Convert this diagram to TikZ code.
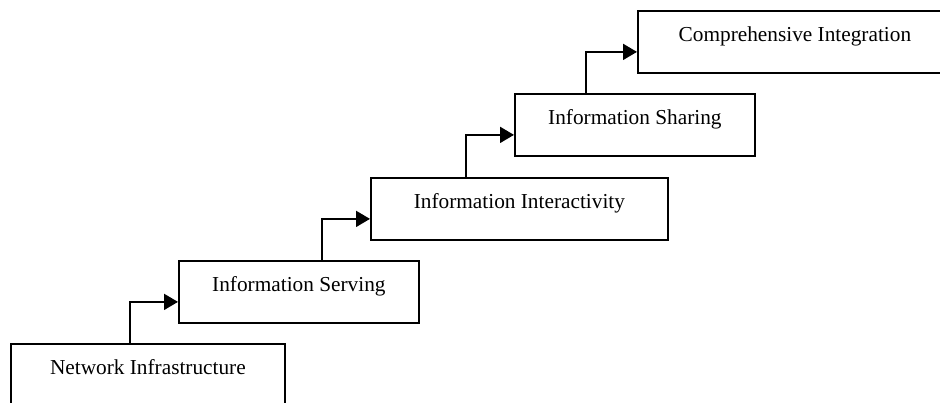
\documentclass[tikz,border=0pt]{standalone}
\usepackage{fontspec}
\setmainfont{Liberation Serif}
\usetikzlibrary{arrows.meta}
\begin{document}
\begin{tikzpicture}[x=1pt,y=-1pt,
  stage/.style={draw, line width=1.8pt, anchor=north west, inner xsep=0pt, inner ysep=0pt,
    text height=31pt, text depth=31pt, font=\fontsize{21.3}{25}\selectfont},
  flow/.style={line width=1.8pt, -{Triangle[length=14pt,width=16pt]}}]
\useasboundingbox (0,0) rectangle (940,403);
\fill[white] (0,0) rectangle (940,403);
\clip (0,0) rectangle (940,403);
\node[stage, minimum width=274pt] (b1) at (10,343) {Network Infrastructure};
\node[stage, minimum width=240pt] (b2) at (178,260) {Information Serving};
\node[stage, minimum width=297pt] (b3) at (370,177) {Information Interactivity};
\node[stage, minimum width=240pt] (b4) at (514,93) {Information Sharing};
\node[stage, minimum width=314pt] (b5) at (637,10) {Comprehensive Integration};
\draw[flow] ([xshift=-48pt]b2.west |- b1.north) |- ([yshift=-10pt]b2.west);
\draw[flow] ([xshift=-48pt]b3.west |- b2.north) |- ([yshift=-10pt]b3.west);
\draw[flow] ([xshift=-48pt]b4.west |- b3.north) |- ([yshift=-10pt]b4.west);
\draw[flow] ([xshift=-51pt]b5.west |- b4.north) |- ([yshift=-10pt]b5.west);
\end{tikzpicture}
\end{document}
